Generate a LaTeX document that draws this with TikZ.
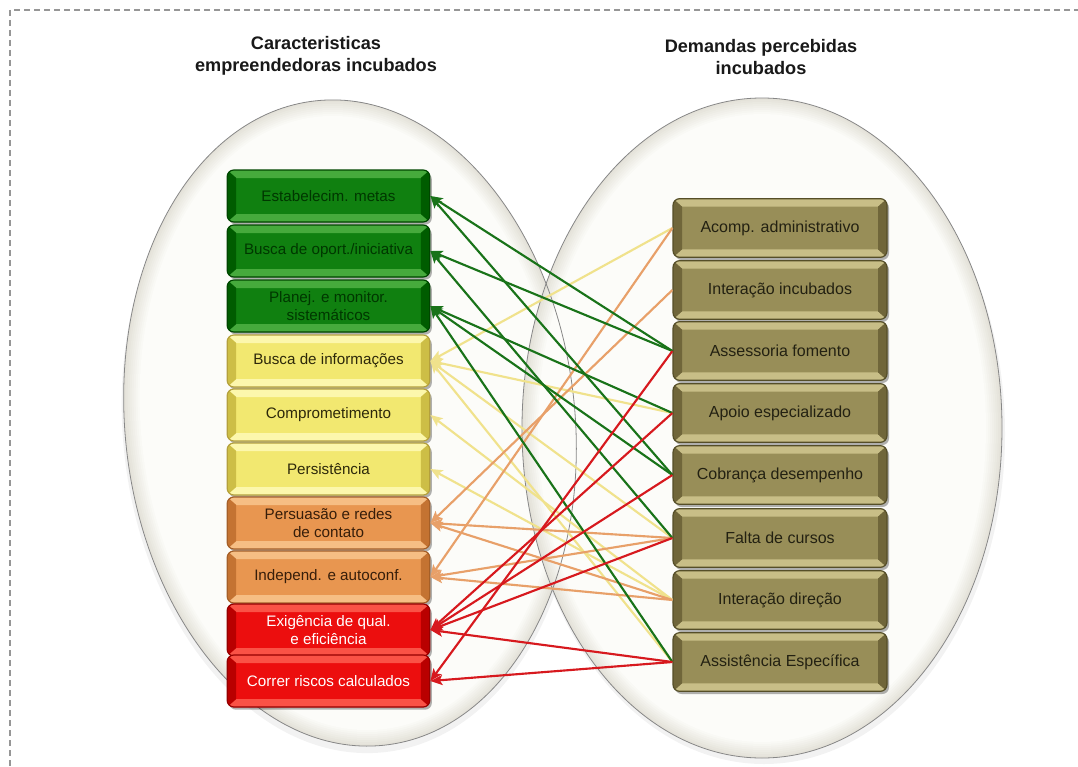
\documentclass[tikz,border=0pt]{standalone}
\usepackage{fontspec}
\setmainfont{Liberation Sans}
\usetikzlibrary{arrows.meta,calc,shadows}

% frame and discs
\definecolor{frameGray}{RGB}{150,150,150}
\definecolor{discIn}{RGB}{252,252,249}
\definecolor{discEdge}{RGB}{228,226,217}
\definecolor{discLine}{RGB}{135,135,135}

% bevelled boxes: face, light facet, dark facet, rim, text
\definecolor{gFace}{RGB}{16,128,16}  \definecolor{gHi}{RGB}{70,170,60}   \definecolor{gLo}{RGB}{0,92,0}     \definecolor{gRim}{RGB}{0,70,0}    \definecolor{gTxt}{RGB}{0,55,0}
\definecolor{yFace}{RGB}{242,232,112}\definecolor{yHi}{RGB}{252,247,172} \definecolor{yLo}{RGB}{205,190,70}  \definecolor{yRim}{RGB}{180,160,60}\definecolor{yTxt}{RGB}{45,40,10}
\definecolor{oFace}{RGB}{232,150,80} \definecolor{oHi}{RGB}{246,190,132} \definecolor{oLo}{RGB}{196,115,50}  \definecolor{oRim}{RGB}{165,95,40} \definecolor{oTxt}{RGB}{55,30,10}
\definecolor{rFace}{RGB}{236,14,14}  \definecolor{rHi}{RGB}{250,82,70}   \definecolor{rLo}{RGB}{185,0,0}     \definecolor{rRim}{RGB}{150,0,0}   \definecolor{rTxt}{RGB}{255,255,255}
\definecolor{kFace}{RGB}{152,142,88} \definecolor{kHi}{RGB}{200,190,135} \definecolor{kLo}{RGB}{112,102,58}  \definecolor{kRim}{RGB}{85,78,40}  \definecolor{kTxt}{RGB}{35,33,18}

% connector colours
\definecolor{lnG}{RGB}{25,115,25}
\definecolor{lnY}{RGB}{240,226,140}
\definecolor{lnO}{RGB}{232,160,105}
\definecolor{lnR}{RGB}{215,25,30}

\def\bvX{9}
\def\bvY{8}

\tikzset{
  bevbox/.style n args={5}{
    rounded corners=5pt, fill=#1, draw=#4, line width=0.9pt, text=#5,
    align=center, inner sep=0pt,
    drop shadow={shadow xshift=1.5pt, shadow yshift=-2pt, opacity=0.3, fill=black},
    path picture={
      \coordinate (pA) at (path picture bounding box.north west);
      \coordinate (pB) at (path picture bounding box.south east);
      \fill[#2, sharp corners] (pA) -- (pA-|pB) -- ($(pA-|pB)+(-\bvX,\bvY)$) -- ($(pA)+(\bvX,\bvY)$) -- cycle;
      \fill[#2, sharp corners] (pB) -- (pB-|pA) -- ($(pB-|pA)+(\bvX,-\bvY)$) -- ($(pB)+(-\bvX,-\bvY)$) -- cycle;
      \fill[#3, sharp corners] (pA) -- (pA|-pB) -- ($(pA|-pB)+(\bvX,-\bvY)$) -- ($(pA)+(\bvX,\bvY)$) -- cycle;
      \fill[#3, sharp corners] (pB) -- (pB|-pA) -- ($(pB|-pA)+(-\bvX,\bvY)$) -- ($(pB)+(-\bvX,-\bvY)$) -- cycle;
    }},
  lbox/.style={minimum width=152pt, minimum height=39pt, font=\fontsize{11.4}{14}\selectfont},
  rbox/.style={minimum width=160.5pt, minimum height=44pt, font=\fontsize{12}{14}\selectfont},
  greenbox/.style={lbox, bevbox={gFace}{gHi}{gLo}{gRim}{gTxt}},
  yellowbox/.style={lbox, bevbox={yFace}{yHi}{yLo}{yRim}{yTxt}},
  orangebox/.style={lbox, bevbox={oFace}{oHi}{oLo}{oRim}{oTxt}},
  redbox/.style={lbox, bevbox={rFace}{rHi}{rLo}{rRim}{rTxt}},
  olivebox/.style={rbox, bevbox={kFace}{kHi}{kLo}{kRim}{kTxt}},
  heading/.style={align=center, font=\fontsize{13.6}{16.5}\selectfont\bfseries, text=black!90},
  discrim/.style={draw=discLine, line width=0.6pt},
  link/.style={line width=1.6pt, -{Stealth[length=9pt,width=7.5pt,inset=2pt]}},
  gl/.style={link, lnG}, yl/.style={link, lnY}, ol/.style={link, lnO}, rl/.style={link, lnR}
}

% a cream disc with a soft darker rim: centre x, centre y, x radius, y radius, tilt
\newcommand\creamdisc[5]{%
  \foreach \k in {0,...,8}{%
    \pgfmathsetmacro\mixv{100-\k*12.5}%
    \fill[discEdge!\mixv!discIn, rotate around={#5:(#1,#2)}]
      (#1,#2) ellipse [x radius={#3-2*\k}, y radius={#4-2*\k}];
  }%
}

\begin{document}
\begin{tikzpicture}[x=0.75pt, y=-0.75pt]
\useasboundingbox (0,0) rectangle (1078,767);
\clip (0,0) rectangle (1078,767);
\fill[white] (0,0) rectangle (1078,767);

% dashed frame running off the right and bottom edges
\draw[frameGray, line width=1.3pt, dash pattern=on 4.5pt off 3pt] (10,10) rectangle (1110,800);

% headings
\node[heading] (hl) at (316,56) {Caracteristicas\\empreendedoras incubados};
\node[heading] (hr) at (761,57) {Demandas percebidas\\incubados};

% soft shadows under the discs
\fill[black, opacity=0.05, rotate around={6:(350,429)}] (350,429) ellipse [x radius=227, y radius=325];
\fill[black, opacity=0.05] (764,434) ellipse [x radius=241, y radius=330];

% discs
\creamdisc{350}{423}{225}{324}{6}
\creamdisc{762}{428}{240}{330}{0}
\draw[discrim, rotate around={6:(350,423)}] (350,423) ellipse [x radius=225, y radius=324];
\draw[discrim] (762,428) ellipse [x radius=240, y radius=330];

% entrepreneurial characteristics
\node[greenbox]  (l1)  at (328.5,196) {Estabelecim. metas};
\node[greenbox]  (l2)  at (328.5,251) {Busca de oport./iniciativa};
\node[greenbox]  (l3)  at (328.5,306) {Planej. e monitor.\\sistemáticos};
\node[yellowbox] (l4)  at (328.5,361) {Busca de informações};
\node[yellowbox] (l5)  at (328.5,415) {Comprometimento};
\node[yellowbox] (l6)  at (328.5,469) {Persistência};
\node[orangebox] (l7)  at (328.5,523) {Persuasão e redes\\de contato};
\node[orangebox] (l8)  at (328.5,577) {Independ. e autoconf.};
\node[redbox]    (l9)  at (328.5,630) {Exigência de qual.\\e eficiência};
\node[redbox]    (l10) at (328.5,681) {Correr riscos calculados};

% perceived demands
\node[olivebox] (r1) at (780,228) {Acomp. administrativo};
\node[olivebox] (r2) at (780,290) {Interação incubados};
\node[olivebox] (r3) at (780,351) {Assessoria fomento};
\node[olivebox] (r4) at (780,413) {Apoio especializado};
\node[olivebox] (r5) at (780,475) {Cobrança desempenho};
\node[olivebox] (r6) at (780,538) {Falta de cursos};
\node[olivebox] (r7) at (780,600) {Interação direção};
\node[olivebox] (r8) at (780,662) {Assistência Específica};

% links: yellow
\draw[yl] (r1.west) -- (l4.east);
\draw[yl] (r4.west) -- (l4.east);
\draw[yl] (r6.west) -- (l4.east);
\draw[yl] (r8.west) -- (l4.east);
\draw[yl] (r7.west) -- (l5.east);
\draw[yl] (r7.west) -- (l6.east);
% links: orange
\draw[ol] (r1.west) -- (l8.east);
\draw[ol] (r2.west) -- (l7.east);
\draw[ol] (r6.west) -- (l7.east);
\draw[ol] (r6.west) -- (l8.east);
\draw[ol] (r7.west) -- (l7.east);
\draw[ol] (r7.west) -- (l8.east);
% links: green
\draw[gl] (r3.west) -- (l1.east);
\draw[gl] (r5.west) -- (l1.east);
\draw[gl] (r3.west) -- (l2.east);
\draw[gl] (r6.west) -- (l2.east);
\draw[gl] (r4.west) -- (l3.east);
\draw[gl] (r5.west) -- (l3.east);
\draw[gl] (r8.west) -- (l3.east);
% links: red
\draw[rl] (r3.west) -- (l10.east);
\draw[rl] (r4.west) -- (l9.east);
\draw[rl] (r5.west) -- (l9.east);
\draw[rl] (r6.west) -- (l9.east);
\draw[rl] (r8.west) -- (l9.east);
\draw[rl] (r8.west) -- (l10.east);
\end{tikzpicture}
\end{document}
